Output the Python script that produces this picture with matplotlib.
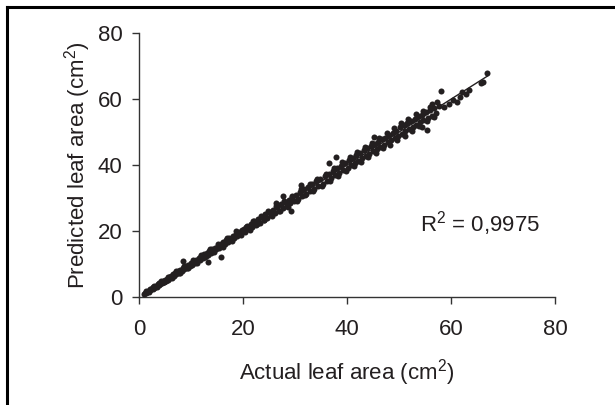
import numpy as np
import matplotlib
matplotlib.use("Agg")
import matplotlib.pyplot as plt
from matplotlib.lines import Line2D

plt.rcParams['font.family'] = ['Liberation Sans', 'DejaVu Sans']
plt.rcParams['mathtext.fontset'] = 'custom'
plt.rcParams['mathtext.rm'] = 'Liberation Sans'
plt.rcParams['mathtext.it'] = 'Liberation Sans'
plt.rcParams['mathtext.bf'] = 'Liberation Sans'

# ---- data ----
actual = [
    1.0, 1.2, 1.3, 1.5, 1.6, 1.8, 1.9, 2.1, 2.2, 2.4, 2.6, 2.7, 2.9, 3.1, 3.2, 3.4,
    3.6, 3.8, 3.9, 4.1, 4.3, 4.5, 4.7, 4.8, 5.0, 5.2, 5.4, 5.6, 5.8, 6.0, 6.2, 6.4,
    6.6, 6.8, 7.0, 7.2, 7.5, 7.7, 7.9, 8.2, 8.4, 8.7, 8.9, 9.2, 9.5, 9.8, 8.5,
    10.0, 10.2, 10.5, 10.7, 11.0, 11.2, 11.5, 11.8, 12.0, 12.3, 12.5, 12.8, 13.0,
    13.3, 13.5, 13.8, 14.0, 14.3, 14.6, 14.8, 15.1, 15.4, 15.7, 16.0, 16.2, 16.5,
    16.8, 17.1, 17.4, 17.7, 18.0, 18.3, 18.6, 18.9, 19.2, 19.5, 19.8, 13.3, 15.7,
    20.1, 20.4, 20.8, 21.1, 21.5, 21.8, 22.2, 22.5, 22.9, 23.2, 23.6, 24.0, 24.3,
    24.7, 25.0, 25.4, 25.8, 26.1, 26.5, 26.9, 27.3, 27.6, 28.0, 28.4, 28.8, 29.1,
    29.5, 29.9, 26.3, 27.7, 29.3,
    30.2, 30.6, 31.0, 31.4, 31.8, 32.1, 32.5, 32.9, 33.3, 33.7, 34.1, 34.5, 34.9,
    35.3, 35.7, 36.1, 36.5, 36.9, 37.3, 37.7, 38.1, 38.5, 38.9, 39.3, 39.7, 31.1,
    36.5, 37.8,
    40.1, 40.4, 40.8, 41.1, 41.5, 41.8, 42.2, 42.5, 42.9, 43.2, 43.6, 43.9, 44.3,
    44.6, 45.0, 45.3, 45.7, 46.0, 46.4, 46.7, 47.1, 47.4, 47.8, 48.1, 48.5, 48.8,
    49.2, 49.5, 49.9, 45.2,
    50.2, 50.5, 50.9, 51.2, 51.6, 51.9, 52.3, 52.6, 53.0, 53.3, 53.7, 54.0, 54.4,
    54.7, 55.1, 55.5, 55.9, 56.3, 56.8, 57.2, 57.7, 55.3, 54.5, 56.4,
    58.1, 58.6, 59.6, 60.3, 61.2, 61.8, 62.2, 62.8, 63.4, 65.8, 66.2, 67.0,
]
predicted = [
    0.9, 1.3, 1.1, 1.6, 1.4, 1.9, 1.7, 2.3, 2.0, 2.5, 2.4, 2.9, 2.8, 3.0, 3.4, 3.3,
    3.8, 3.6, 4.1, 4.0, 4.5, 4.3, 4.9, 4.6, 5.2, 5.0, 5.6, 5.3, 6.0, 5.8, 6.5, 6.1,
    6.9, 6.5, 7.3, 6.9, 7.8, 7.4, 8.2, 7.9, 8.7, 8.4, 9.3, 8.9, 9.8, 9.5, 10.9,
    10.3, 9.8, 10.9, 10.4, 11.2, 10.8, 11.9, 11.3, 12.4, 11.9, 12.9, 12.3, 13.4,
    12.8, 13.9, 13.2, 14.5, 13.9, 15.0, 14.4, 15.6, 14.9, 16.1, 15.6, 16.7, 16.1,
    17.3, 16.6, 17.9, 17.2, 18.4, 17.8, 19.1, 18.4, 19.6, 19.0, 20.2, 10.5, 12.2,
    20.6, 19.8, 21.4, 20.6, 22.1, 21.2, 23.0, 21.9, 23.6, 22.5, 24.3, 23.4, 25.1,
    24.0, 25.8, 24.8, 26.5, 25.4, 27.3, 26.2, 28.1, 26.9, 28.7, 27.6, 29.5, 28.4,
    30.3, 29.1, 28.6, 30.6, 26.2,
    31.0, 29.6, 31.9, 30.5, 32.6, 31.2, 33.4, 32.0, 34.3, 32.7, 35.0, 33.6, 35.8,
    34.3, 36.6, 35.2, 37.4, 36.0, 38.2, 36.9, 39.1, 37.5, 39.8, 38.4, 40.6, 33.9,
    40.5, 42.3,
    39.2, 41.4, 39.9, 42.2, 40.6, 43.0, 41.3, 43.6, 42.0, 44.4, 42.8, 45.1, 43.4,
    45.7, 44.3, 46.4, 44.9, 47.0, 45.6, 47.8, 46.1, 48.3, 46.9, 49.0, 47.5, 49.6,
    48.2, 50.3, 48.8, 48.4,
    51.4, 49.5, 52.0, 50.2, 52.8, 50.9, 53.4, 51.6, 54.0, 52.2, 54.7, 52.9, 55.3,
    53.6, 56.0, 54.1, 56.6, 54.8, 57.3, 55.9, 57.8, 50.6, 51.6, 58.4,
    62.5, 57.6, 58.5, 59.8, 59.0, 60.6, 62.2, 61.5, 62.7, 64.8, 65.1, 68.0,
]
# additional leaves (low range)
actual_low = [
    1.4, 2.0, 2.8, 3.5, 4.2, 4.9, 5.5, 6.3, 7.1, 7.8, 8.6, 9.4, 10.3, 11.1, 11.9,
    12.7, 13.6, 14.4, 15.2, 16.1, 16.9, 17.8, 18.7, 19.6,
]
predicted_low = [
    1.9, 1.6, 3.4, 3.0, 4.8, 4.4, 6.2, 5.7, 7.8, 7.2, 9.4, 8.8, 11.1, 10.4, 12.8,
    12.0, 14.6, 13.7, 16.2, 15.3, 18.0, 16.9, 19.9, 18.8,
]
# additional leaves (middle and upper range)
actual_mid = [
    20.5, 21.3, 22.0, 22.7, 23.4, 24.1, 24.9, 25.6, 26.3, 27.1, 27.9, 28.6, 29.4,
    30.4, 31.2, 32.0, 32.8, 33.5, 34.3, 35.1, 35.9, 36.7, 37.5, 38.3, 39.1, 39.9,
    40.6, 41.3, 42.0, 42.7, 43.4, 44.1, 44.8, 45.5, 46.2, 46.9, 47.6, 48.3, 49.0,
    49.7, 50.4, 51.1, 51.8, 52.5, 53.2, 53.9, 54.6, 55.3, 56.0, 56.7, 57.4,
]
predicted_mid = [
    21.3, 20.4, 22.9, 22.0, 24.6, 23.2, 26.0, 24.5, 27.5, 26.0, 29.2, 27.4, 30.5,
    29.0, 32.6, 30.8, 34.2, 32.1, 35.9, 33.7, 37.4, 35.1, 39.2, 36.6, 40.8, 38.1,
    42.5, 39.6, 43.8, 41.0, 45.4, 42.3, 46.8, 43.6, 48.1, 45.0, 49.7, 46.2, 51.2,
    47.6, 52.6, 48.9, 53.9, 50.4, 55.4, 51.7, 56.5, 53.2, 57.7, 54.5, 59.2,
]
r2_text = r'R$^2$ = 0,9975'
x_ticks = [0, 20, 40, 60, 80]
y_ticks = [0, 20, 40, 60, 80]

ink = '#231f20'
fs = 16

fig = plt.figure(figsize=(6.15, 4.05), dpi=100)
ax = fig.add_axes([139/615, 1 - 297/405, 416/615, 264/405])

x = np.array(actual + actual_low + actual_mid)
y = np.array(predicted + predicted_low + predicted_mid)
ax.scatter(x, y, s=19, color=ink, linewidths=0, zorder=3)

coef = np.polyfit(x, y, 1)
xl = np.array([x.min(), x.max()])
ax.plot(xl, np.polyval(coef, xl), color=ink, lw=1.0, zorder=2)

ax.set_xlim(0, 80)
ax.set_ylim(0, 80)
ax.set_xticks(x_ticks)
ax.set_yticks(y_ticks)
for s in ['top', 'right']:
    ax.spines[s].set_visible(False)
for s in ['left', 'bottom']:
    ax.spines[s].set_color('#333333')
    ax.spines[s].set_linewidth(1.0)
ax.tick_params(axis='both', direction='out', length=5, width=1.0, color='#333333',
               labelsize=fs, labelcolor=ink)
ax.tick_params(axis='x', pad=11)
ax.tick_params(axis='y', pad=7)

ax.set_xlabel('Actual leaf area (cm$^2$)', fontsize=fs, color=ink, labelpad=12)
ax.set_ylabel('Predicted leaf area (cm$^2$)', fontsize=fs, color=ink, labelpad=3)

ax.text(54, 19.7, r2_text, fontsize=fs, color=ink, ha='left', va='baseline')

# page frame (left and top edges visible)
fig.add_artist(Line2D([7/615, 7/615], [0, 1 - 7/405], transform=fig.transFigure,
                      color='black', lw=2.2))
fig.add_artist(Line2D([7/615, 1], [1 - 7/405, 1 - 7/405], transform=fig.transFigure,
                      color='black', lw=2.2))

fig.savefig('out.png', dpi=100, facecolor='white')
